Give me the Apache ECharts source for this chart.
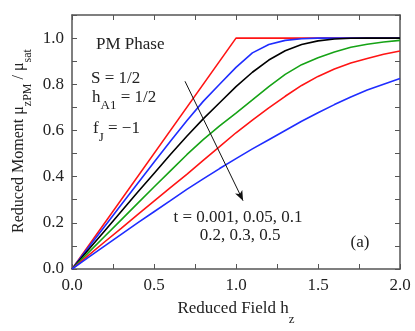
<!DOCTYPE html>
<html><head><meta charset="utf-8">
<script src="https://cdn.jsdelivr.net/npm/echarts@6/dist/echarts.min.js"></script>
<style>html,body{margin:0;padding:0;background:#fff}#c{width:415px;height:331px}</style>
</head><body><div id="c"></div>
<script>
// Reduced field h_z sample positions
const hValues = [0,0.1,0.2,0.3,0.4,0.5,0.6,0.7,0.8,0.9,1.0,1.1,1.2,1.3,1.4,1.5,1.6,1.7,1.8,1.9,2.0];
// t = 0.001 (piecewise linear)
const t0001H = [0, 1.0, 2.0];
const t0001M = [0, 1.0, 1.0];
// reduced moment for other temperatures
const m005 = [0,0.093,0.185,0.278,0.37,0.462,0.553,0.642,0.726,0.80,0.873,0.936,0.972,0.99,0.997,1.0,1.0,1.0,1.0,1.0,1.0];
const m01  = [0,0.083,0.166,0.249,0.332,0.414,0.496,0.575,0.65,0.72,0.79,0.852,0.905,0.945,0.972,0.988,0.996,0.999,1.0,1.0,1.0];
const m02  = [0,0.071,0.142,0.213,0.284,0.355,0.425,0.495,0.56,0.62,0.675,0.732,0.79,0.843,0.885,0.915,0.94,0.96,0.973,0.983,0.99];
const m03  = [0,0.059,0.118,0.176,0.235,0.294,0.352,0.41,0.47,0.53,0.59,0.645,0.698,0.748,0.795,0.834,0.866,0.892,0.912,0.93,0.944];
const m05  = [0,0.05,0.1,0.15,0.2,0.248,0.296,0.345,0.39,0.435,0.478,0.52,0.56,0.6,0.64,0.677,0.712,0.745,0.775,0.8,0.825];
const seriesNames = ['t = 0.001','t = 0.05','t = 0.1','t = 0.2','t = 0.3','t = 0.5'];
const seriesColors = ['#ff1414','#1f2dff','#000000','#16a316','#ff1414','#1f2dff'];
// arrow annotation (data coords)
const arrowStart = [0.689, 0.813];
const arrowEnd = [1.043, 0.296];

const FF = '"Liberation Serif","Times New Roman","DejaVu Serif",serif';
const TXT = '#222';
const AX = '#555';

const chart = echarts.init(document.getElementById('c'), null, {renderer:'canvas'});

function pairs(xs, ys){ return xs.map((x,i)=>[x, ys[i]]); }
const curveData = [pairs(t0001H,t0001M), pairs(hValues,m005), pairs(hValues,m01), pairs(hValues,m02), pairs(hValues,m03), pairs(hValues,m05)];

const series = curveData.map((d,i)=>({
  name: seriesNames[i], type:'line', data:d, showSymbol:false, symbol:'none',
  smooth: false,
  lineStyle:{color:seriesColors[i], width:1.6}, itemStyle:{color:seriesColors[i]},
  z: 3, silent:true
}));
series.push({
  type:'line', data:[[arrowStart[0],arrowStart[1]]], silent:true, showSymbol:false, symbol:'none',
  lineStyle:{opacity:0},
  markLine:{silent:true, symbol:['none','arrow'], symbolSize:10, label:{show:false},
    lineStyle:{color:'#111', width:1, type:'solid'}, emphasis:{disabled:true},
    data:[[{coord:arrowStart, symbol:'none'},{coord:arrowEnd, symbol:'arrow', symbolSize:[6,10]}]]}
});

const axisCommon = {
  axisLine:{show:true, onZero:false, lineStyle:{color:AX, width:1.5}},
  axisTick:{show:true, inside:true, length:5, lineStyle:{color:AX, width:1}},
  splitLine:{show:false}
};

function isMult(v, step){ const r = v/step; return Math.abs(r-Math.round(r))<1e-6; }

const option = {
  animation:false,
  backgroundColor:'#fff',
  grid:{left:72, right:15, top:15, bottom:62, containLabel:false},
  xAxis:[
    Object.assign({type:'value', min:0, max:2, interval:0.25, position:'bottom',
      axisLabel:{formatter:v=> isMult(v,0.5) ? v.toFixed(1) : '', fontSize:17, fontFamily:FF, color:TXT, margin:8}}, axisCommon),
    Object.assign({type:'value', min:0, max:2, interval:0.25, position:'top', axisLabel:{show:false}}, axisCommon)
  ],
  yAxis:[
    Object.assign({type:'value', min:0, max:1.1, interval:0.1, position:'left',
      axisLabel:{formatter:v=> (isMult(v,0.2) && v<1.05) ? v.toFixed(1) : '', fontSize:17, fontFamily:FF, color:TXT, margin:8}}, axisCommon),
    Object.assign({type:'value', min:0, max:1.1, interval:0.1, position:'right', axisLabel:{show:false}}, axisCommon)
  ],
  series: series,
  graphic:[
    {type:'text', x:236, y:309, silent:true, style:{
      text:'{m|Reduced Field h}{s|z}', align:'center', verticalAlign:'middle',
      rich:{m:{fontSize:17, fontFamily:FF, fill:TXT, lineHeight:35, verticalAlign:'middle'},
            s:{fontSize:13, fontFamily:FF, fill:TXT, lineHeight:13, verticalAlign:'bottom'}}}},
    {type:'text', x:19, y:141, rotation:Math.PI/2, silent:true, style:{
      text:'{m|Reduced Moment μ}{s|zPM}{m| / μ}{s|sat}', align:'center', verticalAlign:'middle',
      rich:{m:{fontSize:16, fontFamily:FF, fill:TXT, lineHeight:30, verticalAlign:'middle'},
            s:{fontSize:12, fontFamily:FF, fill:TXT, lineHeight:12, verticalAlign:'bottom'}}}},
    {type:'text', x:96, y:45, silent:true, style:{text:'PM Phase', font:'17px '+FF, fill:TXT, align:'left', verticalAlign:'middle'}},
    {type:'text', x:91, y:79, silent:true, style:{text:'S = 1/2', font:'17px '+FF, fill:TXT, align:'left', verticalAlign:'middle'}},
    {type:'text', x:92, y:98, silent:true, style:{
      text:'{m|h}{s|A1}{m| = 1/2}', align:'left', verticalAlign:'middle',
      rich:{m:{fontSize:17, fontFamily:FF, fill:TXT, lineHeight:29, verticalAlign:'middle'},
            s:{fontSize:13, fontFamily:FF, fill:TXT, lineHeight:13, verticalAlign:'bottom'}}}},
    {type:'text', x:93, y:129, silent:true, style:{
      text:'{m|f}{s|J}{m| = −1}', align:'left', verticalAlign:'middle',
      rich:{m:{fontSize:17, fontFamily:FF, fill:TXT, lineHeight:31, verticalAlign:'middle'},
            s:{fontSize:13, fontFamily:FF, fill:TXT, lineHeight:13, verticalAlign:'bottom'}}}},
    {type:'text', x:238, y:218, silent:true, style:{text:'t = 0.001, 0.05, 0.1', font:'17px '+FF, fill:TXT, align:'center', verticalAlign:'middle'}},
    {type:'text', x:240, y:236, silent:true, style:{text:'0.2, 0.3, 0.5', font:'17px '+FF, fill:TXT, align:'center', verticalAlign:'middle'}},
    {type:'text', x:360, y:243, silent:true, style:{text:'(a)', font:'17px '+FF, fill:TXT, align:'center', verticalAlign:'middle'}}
  ]
};
chart.setOption(option);
</script>
</body></html>
